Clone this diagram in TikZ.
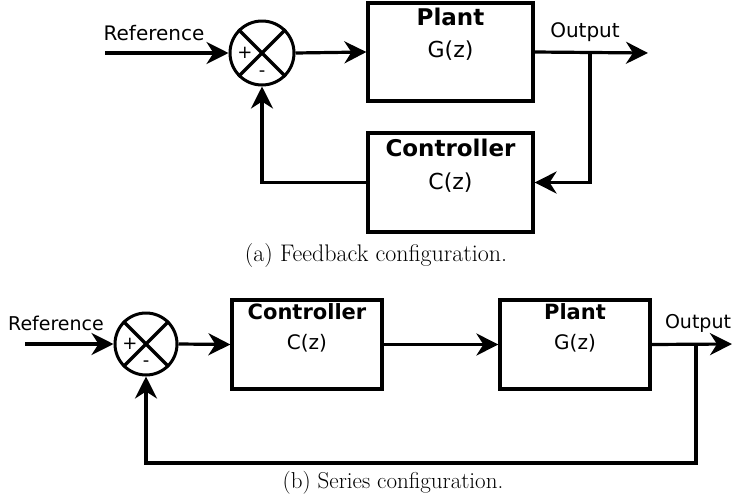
\documentclass[tikz,border=0pt]{standalone}
\usepackage{fontspec}
\newfontfamily\dejavu{DejaVu Sans}
\usetikzlibrary{arrows.meta}
\tikzset{>={Stealth[length=22pt,width=22pt,inset=7pt]}}
\begin{document}
\begin{tikzpicture}[x=1pt,y=-1pt,
  wire/.style={line width=3.2pt},
  arr/.style={wire, ->},
  blk/.style={draw, line width=3.2pt, rectangle, inner sep=0pt},
  sumj/.style={draw, line width=3pt, circle, inner sep=0pt},
  lbl/.style={font=\dejavu\fontsize{20}{24}\selectfont, inner sep=0pt},
  lblb/.style={font=\dejavu\fontsize{19}{24}\selectfont, inner sep=0pt},
  blbl/.style={font=\dejavu\bfseries\fontsize{23}{26}\selectfont, inner sep=0pt},
  blblb/.style={font=\dejavu\bfseries\fontsize{21}{24}\selectfont, inner sep=0pt},
  sgn/.style={font=\dejavu\fontsize{18}{20}\selectfont, inner sep=0pt},
  captxt/.style={font=\fontsize{24}{28}\selectfont, inner sep=0pt}]
\useasboundingbox (0,0) rectangle (732,501);

% ---------- (a) Feedback configuration ----------
\node[sumj, minimum size=64pt] (s1) at (262,53) {};
\draw[wire] (s1.north west) -- (s1.south east) (s1.north east) -- (s1.south west);
\node[sgn] (s1p) at (245,53) {+};
\node[sgn] (s1m) at (262,74) {-};
\node[blk, minimum width=165pt, minimum height=98pt] (p1) at (450.5,52) {};
\node[blbl] (p1t) at (450.5,17) {Plant};
\node[font=\dejavu\fontsize{22}{26}\selectfont, inner sep=0pt] (p1f) at (450.5,51) {G(z)};
\node[blk, minimum width=165pt, minimum height=99pt] (c1) at (450.5,182.5) {};
\node[blbl] (c1t) at (450.5,148) {Controller};
\node[font=\dejavu\fontsize{22}{26}\selectfont, inner sep=0pt] (c1f) at (450.5,183) {C(z)};
\coordinate (r1) at (105,53);
\coordinate (o1) at (648,53);
\coordinate (b1) at (590,53);
\node[lbl] (r1t) at (154,33) {Reference};
\node[lbl] (o1t) at (585,32) {Output};
\draw[arr] (r1) -- (s1.west);
\draw[arr] (s1.east) -- (p1.west);
\draw[arr] (p1.east) -- (o1);
\draw[arr] (b1) |- (c1.east);
\draw[arr] (c1.west) -| (s1.south);
\node[captxt] (cap1) at (376,256) {(a) Feedback configuration.};

% ---------- (b) Series configuration ----------
\node[sumj, minimum size=62pt] (s2) at (146,344) {};
\draw[wire] (s2.north west) -- (s2.south east) (s2.north east) -- (s2.south west);
\node[sgn] (s2p) at (130,344) {+};
\node[sgn] (s2m) at (146,364) {-};
\node[blk, minimum width=150pt, minimum height=89pt] (c2) at (307,344.5) {};
\node[blblb] (c2t) at (307,312) {Controller};
\node[lbl] (c2f) at (307,343) {C(z)};
\node[blk, minimum width=150pt, minimum height=89pt] (p2) at (575,344.5) {};
\node[blblb] (p2t) at (575,312) {Plant};
\node[lbl] (p2f) at (575,343) {G(z)};
\coordinate (r2) at (25,344);
\coordinate (o2) at (732,344);
\coordinate (b2) at (696,344);
\coordinate (d2) at (696,463);
\node[lblb] (r2t) at (56,323) {Reference};
\node[lblb] (o2t) at (698,323) {Output};
\draw[arr] (r2) -- (s2.west);
\draw[arr] (s2.east) -- (c2.west);
\draw[arr] (c2.east) -- (p2.west);
\draw[arr] (p2.east) -- (o2);
\draw[arr] (b2) -- (d2) -| (s2.south);
\node[captxt, font=\fontsize{23}{27}\selectfont] (cap2) at (393,483) {(b) Series configuration.};
\end{tikzpicture}
\end{document}
